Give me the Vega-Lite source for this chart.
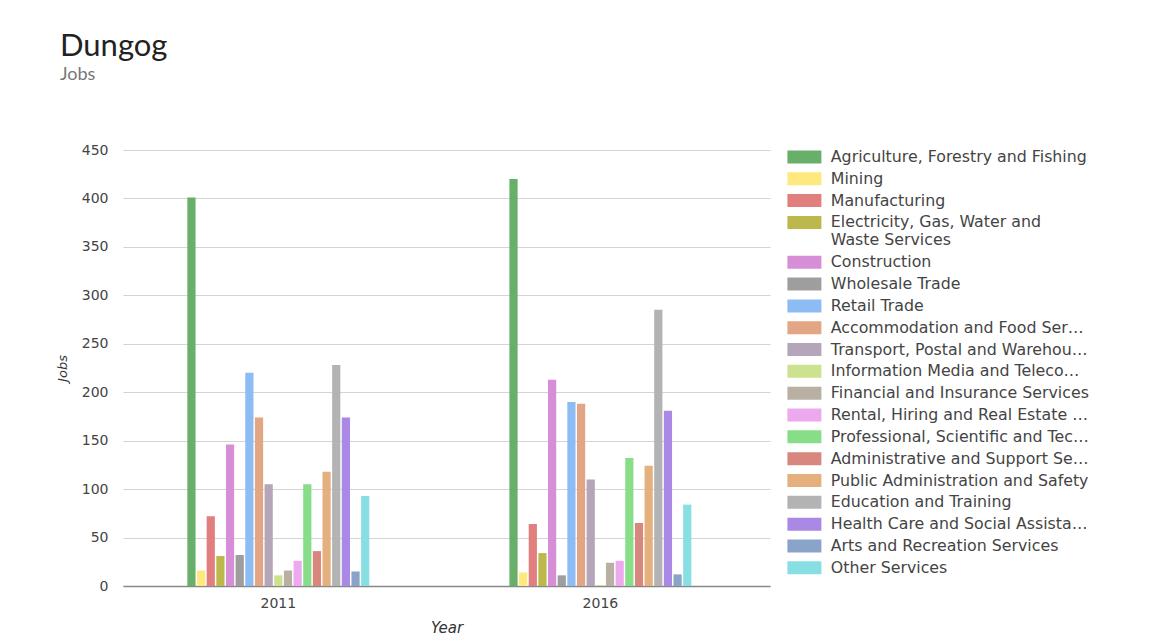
{
  "$schema": "https://vega.github.io/schema/vega-lite/v6.json",
  "width": 647,
  "height": 436,
  "autosize": {"type": "none"},
  "padding": {"left": 123, "top": 150, "right": 404, "bottom": 55},
  "background": "white",
  "title": {
    "text": "Dungog",
    "subtitle": "Jobs",
    "anchor": "start",
    "frame": "group",
    "dx": -63,
    "offset": 58,
    "font": "Lato",
    "fontSize": 31,
    "fontWeight": 400,
    "color": "#222222",
    "subtitleFont": "Lato",
    "subtitleFontSize": 18,
    "subtitleColor": "#777777",
    "subtitlePadding": 3
  },
  "data": {
    "values": [
      {"year": "2011", "industry": "Agriculture, Forestry and Fishing", "jobs": 401},
      {"year": "2011", "industry": "Mining", "jobs": 16},
      {"year": "2011", "industry": "Manufacturing", "jobs": 72},
      {"year": "2011", "industry": "Electricity, Gas, Water and Waste Services", "jobs": 31},
      {"year": "2011", "industry": "Construction", "jobs": 146},
      {"year": "2011", "industry": "Wholesale Trade", "jobs": 32},
      {"year": "2011", "industry": "Retail Trade", "jobs": 220},
      {"year": "2011", "industry": "Accommodation and Food Services", "jobs": 174},
      {"year": "2011", "industry": "Transport, Postal and Warehousing", "jobs": 105},
      {"year": "2011", "industry": "Information Media and Telecommunications", "jobs": 11},
      {"year": "2011", "industry": "Financial and Insurance Services", "jobs": 16},
      {"year": "2011", "industry": "Rental, Hiring and Real Estate Services", "jobs": 26},
      {"year": "2011", "industry": "Professional, Scientific and Technical Services", "jobs": 105},
      {"year": "2011", "industry": "Administrative and Support Services", "jobs": 36},
      {"year": "2011", "industry": "Public Administration and Safety", "jobs": 118},
      {"year": "2011", "industry": "Education and Training", "jobs": 228},
      {"year": "2011", "industry": "Health Care and Social Assistance", "jobs": 174},
      {"year": "2011", "industry": "Arts and Recreation Services", "jobs": 15},
      {"year": "2011", "industry": "Other Services", "jobs": 93},
      {"year": "2016", "industry": "Agriculture, Forestry and Fishing", "jobs": 420},
      {"year": "2016", "industry": "Mining", "jobs": 14},
      {"year": "2016", "industry": "Manufacturing", "jobs": 64},
      {"year": "2016", "industry": "Electricity, Gas, Water and Waste Services", "jobs": 34},
      {"year": "2016", "industry": "Construction", "jobs": 213},
      {"year": "2016", "industry": "Wholesale Trade", "jobs": 11},
      {"year": "2016", "industry": "Retail Trade", "jobs": 190},
      {"year": "2016", "industry": "Accommodation and Food Services", "jobs": 188},
      {"year": "2016", "industry": "Transport, Postal and Warehousing", "jobs": 110},
      {"year": "2016", "industry": "Information Media and Telecommunications", "jobs": 1},
      {"year": "2016", "industry": "Financial and Insurance Services", "jobs": 24},
      {"year": "2016", "industry": "Rental, Hiring and Real Estate Services", "jobs": 26},
      {"year": "2016", "industry": "Professional, Scientific and Technical Services", "jobs": 132},
      {"year": "2016", "industry": "Administrative and Support Services", "jobs": 65},
      {"year": "2016", "industry": "Public Administration and Safety", "jobs": 124},
      {"year": "2016", "industry": "Education and Training", "jobs": 285},
      {"year": "2016", "industry": "Health Care and Social Assistance", "jobs": 181},
      {"year": "2016", "industry": "Arts and Recreation Services", "jobs": 12},
      {"year": "2016", "industry": "Other Services", "jobs": 84}
    ]
  },
  "mark": {"type": "bar", "opacity": 1},
  "encoding": {
    "x": {
      "field": "year",
      "type": "nominal",
      "title": "Year",
      "scale": {"paddingInner": 0.435, "paddingOuter": 0.222, "align": 0.45},
      "axis": {
        "labelAngle": 0,
        "labelFont": "DejaVu Sans",
        "labelFontSize": 14,
        "labelColor": "#444444",
        "labelPadding": 10,
        "labelDx": 7,
        "ticks": false,
        "domainColor": "#888888",
        "domainWidth": 1.5,
        "titleFont": "DejaVu Sans",
        "titleFontSize": 15,
        "titleFontStyle": "italic",
        "titleFontWeight": 400,
        "titleColor": "#333333",
        "titlePadding": 10
      }
    },
    "xOffset": {
      "field": "industry",
      "type": "nominal",
      "scale": {
        "domain": [
          "Agriculture, Forestry and Fishing", "Mining", "Manufacturing",
          "Electricity, Gas, Water and Waste Services", "Construction", "Wholesale Trade",
          "Retail Trade", "Accommodation and Food Services", "Transport, Postal and Warehousing",
          "Information Media and Telecommunications", "Financial and Insurance Services",
          "Rental, Hiring and Real Estate Services", "Professional, Scientific and Technical Services",
          "Administrative and Support Services", "Public Administration and Safety",
          "Education and Training", "Health Care and Social Assistance",
          "Arts and Recreation Services", "Other Services"
        ],
        "paddingInner": 0.15,
        "paddingOuter": 0
      }
    },
    "y": {
      "field": "jobs",
      "type": "quantitative",
      "title": "Jobs",
      "scale": {"domain": [0, 450]},
      "axis": {
        "values": [0, 50, 100, 150, 200, 250, 300, 350, 400, 450],
        "labelFont": "DejaVu Sans",
        "labelFontSize": 14,
        "labelColor": "#444444",
        "labelPadding": 15,
        "ticks": false,
        "domain": false,
        "gridColor": "#d4d4d4",
        "gridWidth": 1,
        "titleFont": "DejaVu Sans",
        "titleFontSize": 13,
        "titleFontStyle": "italic",
        "titleFontWeight": 400,
        "titleColor": "#333333",
        "titlePadding": 12
      }
    },
    "color": {
      "field": "industry",
      "type": "nominal",
      "title": null,
      "scale": {
        "domain": [
          "Agriculture, Forestry and Fishing", "Mining", "Manufacturing",
          "Electricity, Gas, Water and Waste Services", "Construction", "Wholesale Trade",
          "Retail Trade", "Accommodation and Food Services", "Transport, Postal and Warehousing",
          "Information Media and Telecommunications", "Financial and Insurance Services",
          "Rental, Hiring and Real Estate Services", "Professional, Scientific and Technical Services",
          "Administrative and Support Services", "Public Administration and Safety",
          "Education and Training", "Health Care and Social Assistance",
          "Arts and Recreation Services", "Other Services"
        ],
        "range": [
          "#68b06a", "#fde97e", "#e17f7f", "#bdb84c", "#d68fd6", "#9e9e9e", "#8dbcf5",
          "#e3a684", "#b5a5b8", "#cde28f", "#b8b1a3", "#eda9ee", "#88de88", "#d8877e",
          "#e3b07e", "#b3b3b3", "#aa88e6", "#8aa3c8", "#88dfe3"
        ]
      },
      "legend": {
        "orient": "none",
        "legendX": 673.5,
        "legendY": -1,
        "symbolType": "M-2.615,-1H2.615V1H-2.615Z",
        "symbolSize": 169,
        "symbolStrokeWidth": 0,
        "symbolOpacity": 1,
        "labelFont": "DejaVu Sans",
        "labelFontSize": 15.8,
        "labelColor": "#444444",
        "labelOffset": 18.5,
        "labelLimit": 261,
        "labelBaseline": "middle",
        "rowPadding": 4.83,
        "labelExpr": "datum.label == 'Electricity, Gas, Water and Waste Services' ? ['Electricity, Gas, Water and', 'Waste Services'] : datum.label"
      }
    }
  },
  "config": {
    "view": {"stroke": null}
  }
}
